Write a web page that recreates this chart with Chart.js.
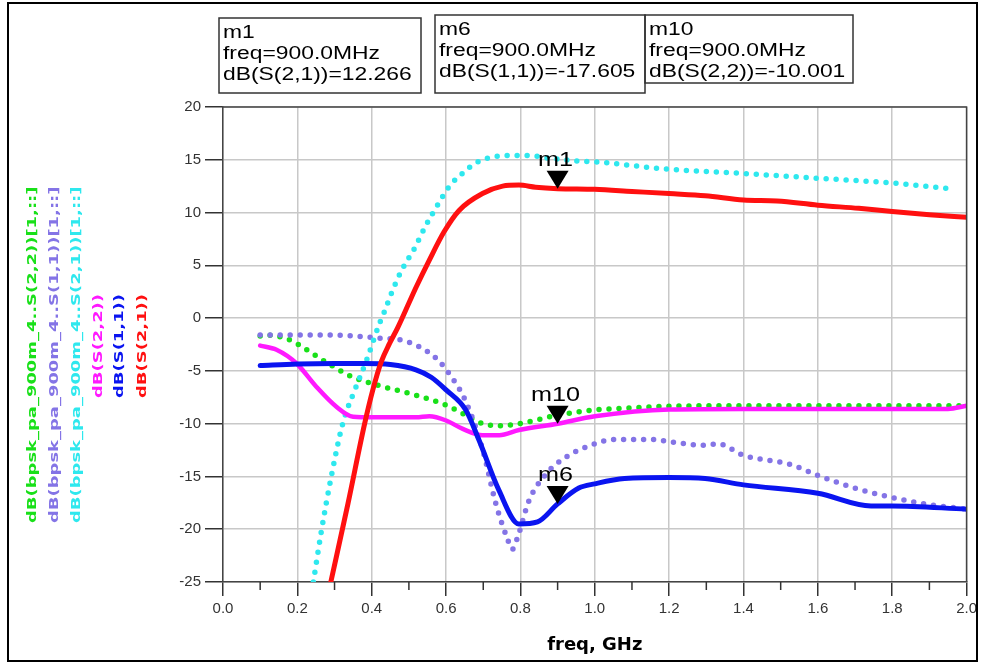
<!DOCTYPE html>
<html>
<head>
<meta charset="utf-8">
<script src="https://cdn.jsdelivr.net/npm/chart.js@4.4.1/dist/chart.umd.min.js"></script>
<style>
  body { margin: 0; background: #fff; }
  canvas { display: block; }
</style>
</head>
<body>
<canvas id="sparam" width="981" height="665"></canvas>
<script>
// traces: frequency in GHz, value in dB
const s21_f  = [0.290, 0.336, 0.381, 0.403, 0.4255, 0.448, 0.470, 0.501, 0.519, 0.555, 0.595, 0.635, 0.698, 0.752, 0.796, 0.841, 0.9, 1.0, 1.1, 1.2, 1.297, 1.4, 1.49, 1.6, 1.71, 1.8, 1.9, 2.0];
const s21_db = [-25, -17.6, -10, -6.8, -4.15, -2.4, -0.9, 1.5, 2.9, 5.5, 8.2, 10.2, 11.8, 12.5, 12.6, 12.4, 12.266, 12.2, 12.0, 11.8, 11.6, 11.2, 11.1, 10.7, 10.4, 10.1, 9.8, 9.55];

const s11_f  = [0.1, 0.2, 0.3, 0.38, 0.45, 0.519, 0.56, 0.6, 0.653, 0.689, 0.742, 0.796, 0.846, 0.9, 0.957, 1.0, 1.08, 1.2, 1.297, 1.4, 1.6, 1.743, 1.8, 2.0];
const s11_db = [-4.5, -4.35, -4.3, -4.3, -4.4, -4.9, -5.6, -6.8, -8.7, -11.6, -16.3, -19.5, -19.3, -17.605, -16.1, -15.7, -15.2, -15.1, -15.2, -15.8, -16.6, -17.8, -17.8, -18.1];

const s22_f  = [0.1, 0.144, 0.198, 0.251, 0.305, 0.35, 0.403, 0.519, 0.555, 0.6, 0.645, 0.698, 0.743, 0.796, 0.9, 1.0, 1.2, 1.4, 1.6, 1.8, 1.95, 2.0];
const s22_db = [-2.6, -3.0, -4.3, -6.5, -8.4, -9.35, -9.4, -9.4, -9.3, -9.7, -10.5, -11.1, -11.1, -10.6, -10.001, -9.3, -8.65, -8.6, -8.6, -8.6, -8.6, -8.3];

const b21_f  = [0.243, 0.265, 0.291, 0.322, 0.358, 0.385, 0.421, 0.434, 0.457, 0.483, 0.515, 0.546, 0.577, 0.609, 0.644, 0.68, 0.725, 0.778, 0.823, 0.877, 0.966, 1.0, 1.2, 1.4, 1.6, 1.8, 1.97];
const b21_db = [-25, -20.1, -15.05, -10, -6.5, -4.1, -0.5, 0.6, 2.7, 4.7, 6.6, 8.8, 10.7, 12.5, 13.7, 14.7, 15.25, 15.4, 15.4, 15.15, 14.85, 14.8, 14.1, 13.7, 13.25, 12.8, 12.2];

const b11_f  = [0.1, 0.2, 0.296, 0.35, 0.421, 0.493, 0.573, 0.617, 0.653, 0.698, 0.734, 0.765, 0.778, 0.792, 0.823, 0.868, 0.921, 1.0, 1.05, 1.154, 1.2, 1.297, 1.33, 1.4, 1.529, 1.6, 1.708, 1.8, 1.886, 2.0];
const b11_db = [-1.6, -1.6, -1.6, -1.7, -1.9, -2.2, -3.8, -5.7, -7.9, -12.4, -17.6, -20.9, -21.9, -20.8, -17.3, -14.8, -13.2, -11.9, -11.5, -11.5, -11.7, -12.05, -11.9, -13.0, -13.9, -14.9, -16.2, -17.0, -17.6, -18.1];

const b22_f  = [0.1, 0.117, 0.171, 0.198, 0.269, 0.35, 0.421, 0.519, 0.6, 0.653, 0.698, 0.743, 0.796, 0.9, 1.0, 1.1, 1.2, 1.4, 1.6, 1.8, 2.0];
const b22_db = [-1.7, -1.6, -1.95, -2.4, -4.0, -5.6, -6.4, -7.3, -8.25, -9.2, -10.0, -10.2, -10.0, -9.2, -8.7, -8.5, -8.35, -8.3, -8.3, -8.3, -8.3];

const legendLabels = [
  'dB(bpsk_pa_900m_4..S(2,2))[1,::]',
  'dB(bpsk_pa_900m_4..S(1,1))[1,::]',
  'dB(bpsk_pa_900m_4..S(2,1))[1,::]',
  'dB(S(2,2))',
  'dB(S(1,1))',
  'dB(S(2,1))'
];
const legendColors = ['#19e019', '#8474e6', '#2ee8ee', '#ff19ff', '#0a14f0', '#ff1010'];

const markerNames  = ['m1', 'm6', 'm10'];
const markerFreq   = [0.9, 0.9, 0.9];
const markerTrace  = ['dB(S(2,1))', 'dB(S(1,1))', 'dB(S(2,2))'];
const markerValues = [12.266, -17.605, -10.001];

const pts = (f, db) => f.map((x, i) => ({x: x, y: db[i]}));
const isMajor = v => Math.round(v * 10) % 2 === 0;

const solid = (label, f, db, color, w) => ({
  label: label, data: pts(f, db), borderColor: color, backgroundColor: color,
  borderWidth: w, pointRadius: 0, cubicInterpolationMode: 'monotone',
  borderCapStyle: 'round', borderJoinStyle: 'round'
});
const dotted = (label, f, db, color) => ({
  label: label, data: pts(f, db), borderColor: color, backgroundColor: color,
  borderWidth: 5.5, borderDash: [0, 10], borderCapStyle: 'round',
  pointRadius: 0, cubicInterpolationMode: 'monotone'
});

const drawStretched = (ctx, text, x, y, sx) => {
  ctx.save();
  ctx.translate(x, y);
  ctx.scale(sx, 1);
  ctx.fillText(text, 0, 0);
  ctx.restore();
};

const extras = {
  id: 'extras',
  afterDraw(chart) {
    const ctx = chart.ctx;
    const area = chart.chartArea;
    const xs = chart.scales.x, ys = chart.scales.y;

    // dark frame on top and right of the plot
    ctx.save();
    ctx.strokeStyle = '#444';
    ctx.lineWidth = 1.5;
    ctx.beginPath();
    ctx.moveTo(area.left, area.top);
    ctx.lineTo(area.right, area.top);
    ctx.lineTo(area.right, area.bottom);
    ctx.stroke();

    // short minor ticks on the frequency axis
    ctx.strokeStyle = '#333';
    ctx.lineWidth = 1.5;
    xs.ticks.forEach(t => {
      if (isMajor(t.value)) return;
      const px = xs.getPixelForValue(t.value);
      ctx.beginPath();
      ctx.moveTo(px, area.bottom);
      ctx.lineTo(px, area.bottom + 8);
      ctx.stroke();
    });

    // markers
    ctx.fillStyle = '#000';
    ctx.font = '21px "Liberation Sans", Arial, sans-serif';
    ctx.textAlign = 'center';
    ctx.textBaseline = 'alphabetic';
    markerNames.forEach((name, i) => {
      const px = xs.getPixelForValue(markerFreq[i]);
      const py = ys.getPixelForValue(markerValues[i]);
      ctx.beginPath();
      ctx.moveTo(px, py);
      ctx.lineTo(px - 11, py - 18);
      ctx.lineTo(px + 11, py - 18);
      ctx.closePath();
      ctx.fill();
      drawStretched(ctx, name, px - 2, py - 23, 1.2);
    });

    // marker readout boxes
    const boxes = [[219, 18, 202, 75], [435, 15, 210, 78], [645, 15, 208, 68]];
    ctx.textAlign = 'left';
    ctx.font = '18px "Liberation Sans", Arial, sans-serif';
    markerNames.forEach((name, i) => {
      const [bx, by, bw, bh] = boxes[i];
      ctx.strokeStyle = '#333';
      ctx.lineWidth = 1.5;
      ctx.strokeRect(bx, by, bw, bh);
      const lines = [
        name,
        'freq=' + (markerFreq[i] * 1000).toFixed(1) + 'MHz',
        markerTrace[i] + '=' + markerValues[i].toFixed(3)
      ];
      lines.forEach((ln, j) => drawStretched(ctx, ln, bx + 4, by + 20 + j * 21, 1.27));
    });

    // rotated legend on the left
    const legX = [36, 57.5, 79.5, 101.5, 123, 145.5];
    ctx.font = 'bold 13px "DejaVu Sans", sans-serif';
    legendLabels.forEach((txt, i) => {
      ctx.save();
      ctx.fillStyle = legendColors[i];
      ctx.translate(legX[i], i < 3 ? 523 : 398);
      ctx.rotate(-Math.PI / 2);
      ctx.scale(1.38, 1);
      ctx.fillText(txt, 0, 0);
      ctx.restore();
    });

    // outer border
    ctx.strokeStyle = '#000';
    ctx.lineWidth = 2;
    ctx.strokeRect(8, 3, 969, 658);
    ctx.restore();
  }
};

new Chart(document.getElementById('sparam'), {
  type: 'line',
  data: {
    datasets: [
      solid('dB(S(2,1))', s21_f, s21_db, legendColors[5], 5),
      solid('dB(S(1,1))', s11_f, s11_db, legendColors[4], 5),
      solid('dB(S(2,2))', s22_f, s22_db, legendColors[3], 4.5),
      dotted('dB(bpsk_pa_900m_4..S(2,1))[1,::]', b21_f, b21_db, legendColors[2]),
      dotted('dB(bpsk_pa_900m_4..S(1,1))[1,::]', b11_f, b11_db, legendColors[1]),
      dotted('dB(bpsk_pa_900m_4..S(2,2))[1,::]', b22_f, b22_db, legendColors[0])
    ]
  },
  options: {
    responsive: false,
    animation: false,
    layout: { padding: { left: 0, right: 12, top: 107, bottom: 0 } },
    plugins: { legend: { display: false }, tooltip: { enabled: false } },
    scales: {
      x: {
        type: 'linear',
        min: 0, max: 2,
        afterFit: s => { s.height = 83; },
        ticks: {
          stepSize: 0.1,
          autoSkip: false,
          maxRotation: 0,
          padding: 4,
          color: '#333',
          font: { family: '"Liberation Sans", Arial, sans-serif', size: 15 },
          callback: v => isMajor(v) ? v.toFixed(1) : ''
        },
        grid: {
          color: c => (c.tick && isMajor(c.tick.value)) ? '#c8c8c8' : 'rgba(0,0,0,0)',
          tickColor: c => (c.tick && isMajor(c.tick.value)) ? '#333' : 'rgba(0,0,0,0)',
          lineWidth: 1.5,
          tickWidth: 1.5,
          tickLength: 14
        },
        border: { color: '#444', width: 1.5 },
        title: {
          display: true,
          text: 'freq, GHz',
          color: '#000',
          font: { family: '"DejaVu Sans", sans-serif', size: 18, weight: 'bold' },
          padding: { top: 0, bottom: 9 }
        }
      },
      y: {
        min: -25, max: 20,
        afterFit: s => { s.width = 223; },
        ticks: {
          stepSize: 5,
          padding: 4,
          color: '#333',
          font: { family: '"Liberation Sans", Arial, sans-serif', size: 15 }
        },
        grid: {
          color: '#c8c8c8',
          tickColor: '#333',
          lineWidth: 1.5,
          tickWidth: 1.5,
          tickLength: 18
        },
        border: { color: '#444', width: 1.5 }
      }
    }
  },
  plugins: [extras]
});
</script>
</body>
</html>
